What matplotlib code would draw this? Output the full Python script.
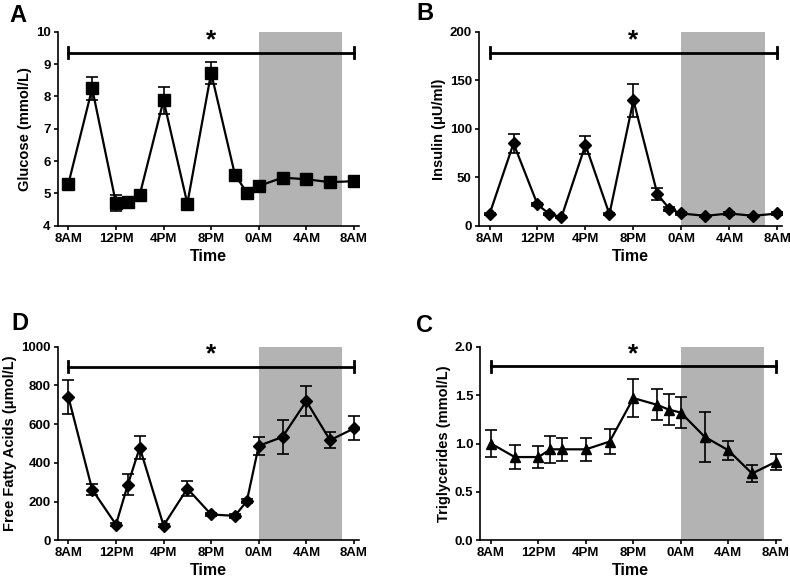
import numpy as np
import matplotlib
matplotlib.use('Agg')
import matplotlib.pyplot as plt

plt.rcParams['font.family'] = ['Liberation Sans', 'DejaVu Sans']
plt.rcParams['font.weight'] = 'bold'

# Sampling times (hours after 8AM)
hours = [0, 2, 4, 5, 6, 8, 10, 12, 14, 15, 16, 18, 20, 22, 24]
tick_hours = [0, 4, 8, 12, 16, 20, 24]
tick_labels = ['8AM', '12PM', '4PM', '8PM', '0AM', '4AM', '8AM']

# Glucose (mmol/L)
glucose = [5.3, 8.25, 4.7, 4.75, 4.96, 7.88, 4.69, 8.73, 5.58, 5.03, 5.23, 5.49, 5.44, 5.35, 5.38]
glucose_err = [0.15, 0.35, 0.24, 0.08, 0.08, 0.42, 0.06, 0.35, 0.12, 0.06, 0.07, 0.06, 0.06, 0.06, 0.06]

# Insulin (uU/ml)
insulin = [12, 85, 22, 12, 9, 83.5, 12, 129.5, 32.6, 17.5, 12.7, 10.3, 12.7, 10.3, 12.7]
insulin_err = [1, 9.5, 2, 1, 1, 9, 1, 17, 6, 2, 1.5, 1, 1.5, 1, 1.5]

# Free fatty acids (umol/L)
ffa = [741, 262, 81, 288, 479, 76, 267, 133, 126, 202, 488, 534, 719, 517, 578]
ffa_err = [87, 28, 8, 52, 59, 8, 40, 10, 10, 12, 46, 87, 76, 40, 62]

# Triglycerides (mmol/L)
tg = [1.0, 0.86, 0.86, 0.94, 0.94, 0.94, 1.02, 1.47, 1.40, 1.35, 1.32, 1.07, 0.93, 0.69, 0.81]
tg_err = [0.14, 0.12, 0.11, 0.14, 0.12, 0.12, 0.13, 0.2, 0.16, 0.16, 0.16, 0.26, 0.1, 0.09, 0.08]

fig = plt.figure(figsize=(7.9, 5.79), dpi=100)


def draw_panel(rect, y, yerr, marker, ms, ylim, yticks, ylabel, bar_y, star_y, letter, letter_xy):
    ax = fig.add_axes(rect)
    ax.axvspan(16, 23, color='#b3b3b3', lw=0, zorder=0)
    ax.errorbar(hours, y, yerr=yerr, color='black', marker=marker, markersize=ms,
                linewidth=1.6, elinewidth=1.2, capsize=4.5, capthick=1.2, zorder=3)
    # significance bar
    ax.plot([0, 24], [bar_y, bar_y], color='black', linewidth=2, zorder=2)
    span = ylim[1] - ylim[0]
    for xe in (0, 24):
        ax.plot([xe, xe], [bar_y - 0.028 * span, bar_y + 0.028 * span], color='black', linewidth=2)
    ax.text(12, star_y, '*', ha='center', va='center', fontsize=19, fontweight='bold')
    ax.set_xlim(-0.9, 24.4)
    ax.set_ylim(*ylim)
    ax.set_yticks(yticks)
    ax.set_xticks(tick_hours)
    ax.set_xticklabels(tick_labels)
    ax.tick_params(axis='both', labelsize=9.5, width=1.2, length=3, direction='out', pad=2)
    for side in ('top', 'right'):
        ax.spines[side].set_visible(False)
    for side in ('left', 'bottom'):
        ax.spines[side].set_linewidth(1.2)
    for lab in ax.get_xticklabels() + ax.get_yticklabels():
        lab.set_fontweight('bold')
    ax.set_xlabel('Time', fontsize=11.5, fontweight='bold', labelpad=3)
    ax.set_ylabel(ylabel, fontsize=10.5, fontweight='bold', labelpad=3)
    fig.text(letter_xy[0] / 790, 1 - letter_xy[1] / 579, letter, fontsize=17, fontweight='bold',
             ha='left', va='center')
    return ax


draw_panel([0.073, 0.610, 0.381, 0.335], glucose, glucose_err, 's', 8,
           (4, 10), [4, 5, 6, 7, 8, 9, 10], 'Glucose (mmol/L)', 9.36, 9.75, 'A', (9, 15))
draw_panel([0.606, 0.610, 0.384, 0.335], insulin, insulin_err, 'D', 6,
           (0, 200), [0, 50, 100, 150, 200], 'Insulin (μU/ml)', 178.7, 191, 'B', (416, 14))
draw_panel([0.073, 0.067, 0.381, 0.334], ffa, ffa_err, 'D', 6,
           (0, 1000), [0, 200, 400, 600, 800, 1000], 'Free Fatty Acids (μmol/L)', 897, 960, 'D', (11, 324))
ax_c = draw_panel([0.608, 0.067, 0.380, 0.334], tg, tg_err, '^', 7,
                  (0, 2.0), [0.0, 0.5, 1.0, 1.5, 2.0], 'Triglycerides (mmol/L)', 1.8, 1.92, 'C', (416, 325))

ax_c.yaxis.set_major_formatter(matplotlib.ticker.FormatStrFormatter('%.1f'))
for lab in ax_c.get_yticklabels():
    lab.set_fontweight('bold')

plt.savefig('out.png', dpi=100)
plt.close()
